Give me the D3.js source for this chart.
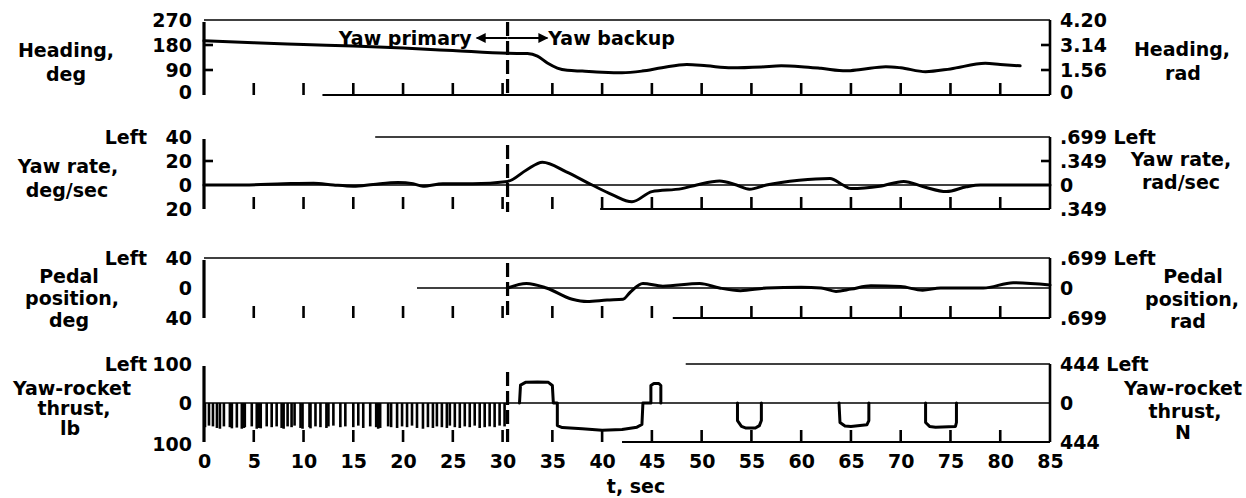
<!DOCTYPE html>
<html><head><meta charset="utf-8">
<script src="https://cdn.jsdelivr.net/npm/d3@7"></script>
<style>
html,body{margin:0;padding:0;background:#fff;}
svg{display:block;}
text{font-family:'DejaVu Sans',sans-serif;font-weight:bold;fill:#000;}
</style></head>
<body><svg id="chart" width="1246" height="498"></svg>
<script>
// ---------------- data ----------------
const xTickValues = [0,5,10,15,20,25,30,35,40,45,50,55,60,65,70,75,80,85];
const xTickLabels = ["0","5","10","15","20","25","30","35","40","45","50","55","60","65","70","75","80","85"];

// Heading, deg
const headingT   = [0,5,10,15,20,25,30.5,32.5,33.5,34.5,35.5,36.5,38,40,42,44,46,48.5,50.5,53,56,58,60,62,64.5,66,68.5,70,72.5,75,78.5,80,82];
const headingDeg = [195,188,182,176,169,160,150,149,140,115,97,89,86,82,80,86,98,110,105,98,101,105,102,96,87,92,102,98,84,94,114,110,105];

// Yaw rate, deg/sec
const yawT    = [0,4,8,11,13,15,17,19.5,21,22,24,27,30.5,32.4,34,36.4,39,41,43,45,48,49.5,51.8,53.5,54.8,56.5,59.8,62.9,64.2,65,67.9,70.3,72.3,74.6,76.6,78,85];
const yawRate = [0,0,1,1.5,0,-1,0.5,2,1,-1,1,1,3,12.5,19,11,0,-8,-14,-5.5,-3,0,3.3,0,-3.5,0,4,5.5,0,-3,-1,3,-1.5,-5.5,-1.5,0,0];

// Pedal position, deg
const pedalT   = [30.5,32.4,34.4,37,38.5,40.5,42.1,42.8,44.1,46.1,49.8,51.8,53.9,56.5,60,62,63.5,65,67,70,72.2,74,78.3,81.3,85];
const pedalDeg = [0,6,0,-15,-18,-16,-15,-6,6,2.5,6,0,-3.5,0,1,0,-4.5,-1.5,3,2,-3,0,0,7,4];

// Yaw-rocket thrust, lb : short pulses before 30 s
const pulseT  = [0.1,0.5,0.9,1.3,1.6,2.0,2.6,2.8,3.3,3.8,4.0,4.1,4.8,5.3,5.5,5.7,6.3,6.8,7.3,7.8,8.0,8.4,8.8,9.1,9.7,9.9,10.6,10.7,11.2,11.7,12.3,12.5,13.0,13.7,14.2,15.0,15.5,16.0,16.7,17.3,17.5,17.7,18.5,18.8,19.4,19.9,20.4,20.9,21.4,22.0,22.5,23.0,23.4,23.9,24.4,24.7,25.2,25.7,26.2,26.7,27.2,27.7,28.2,28.7,29.2,29.7,30.2];
const pulseLb = [-62,-58,-60,-64,-66,-60,-62,-65,-63,-66,-64,-62,-60,-66,-64,-65,-60,-62,-60,-64,-66,-60,-62,-58,-64,-66,-62,-65,-60,-62,-64,-60,-58,-62,-60,-62,-58,-64,-60,-62,-66,-64,-60,-62,-64,-60,-62,-58,-64,-66,-62,-64,-60,-62,-64,-58,-62,-64,-60,-62,-58,-64,-62,-60,-62,-58,-60];
// Yaw-rocket thrust, lb : backup-mode firings (time, lb)
const rocketA = [[31.7,0],[31.8,46],[32.3,53],[33.5,54],[34.6,53],[35.0,45],[35.1,0],[35.5,0],[35.5,-58],[36.0,-63],[38.0,-66],[40.0,-70],[42.0,-68],[43.5,-62],[44.0,-55],[44.1,0],[44.9,0],[44.9,45],[45.2,50],[45.7,50],[45.9,45],[45.9,0]];
const rocketB = [[53.6,0],[53.6,-45],[54.0,-60],[54.4,-64],[55.4,-64],[55.8,-58],[56.0,-45],[56.0,0]];
const rocketC = [[63.8,0],[63.9,-50],[64.4,-59],[65.0,-60],[66.6,-56],[66.8,-45],[66.8,0]];
const rocketD = [[72.5,0],[72.5,-50],[72.9,-60],[73.5,-62],[75.5,-60],[75.6,-50],[75.6,0]];

// axis tick labels
const p1LeftVals = [270,180,90,0],   p1LeftLabels = ["270","180","90","0"],  p1RightLabels = ["4.20","3.14","1.56","0"];
const p2LeftVals = [40,20,0,-20],    p2LeftLabels = ["40","20","0","20"],    p2RightLabels = [".699 Left",".349","0",".349"];
const p3LeftVals = [40,0,-40],       p3LeftLabels = ["40","0","40"],         p3RightLabels = [".699 Left","0",".699"];
const p4LeftVals = [100,0,-100],     p4LeftLabels = ["100","0","100"],       p4RightLabels = ["444 Left","0","444"];

const switchT = 30.5;

// ---------------- layout ----------------
const svg = d3.select("#chart");
const X0 = 204, X1 = 1050;
const x = d3.scaleLinear().domain([0,85]).range([X0,X1]);

const panels = [
  {y: d3.scaleLinear().domain([0,270]).range([95,20]),   lv:p1LeftVals, ll:p1LeftLabels, rl:p1RightLabels, inTicks:[180,90], topFrom:0,    botFrom:11.9, zeroFrom:null, dash:[22,95],  lblShift:-3},
  {y: d3.scaleLinear().domain([-20,40]).range([209,137]),lv:p2LeftVals, ll:p2LeftLabels, rl:p2RightLabels, inTicks:[20],     topFrom:17.2, botFrom:39.8, zeroFrom:0,    dash:[145,212], lblShift:0},
  {y: d3.scaleLinear().domain([-40,40]).range([318,258]),lv:p3LeftVals, ll:p3LeftLabels, rl:p3RightLabels, inTicks:[],       topFrom:0,    botFrom:47.1, zeroFrom:21.4, dash:[263,318], lblShift:0},
  {y: d3.scaleLinear().domain([-100,100]).range([442,364]),lv:p4LeftVals,ll:p4LeftLabels,rl:p4RightLabels, inTicks:[],       topFrom:48.4, botFrom:42.0, zeroFrom:0,    dash:[372,442], lblShift:2}
];
const FS = 19;

panels.forEach((p,i) => {
  const g = svg.append("g");
  const [yb, yt] = p.y.range();
  const bottomVal = p.y.domain()[0];
  // frame lines
  g.append("line").attr("x1",x(p.topFrom)).attr("x2",X1).attr("y1",yt).attr("y2",yt).attr("stroke","#000").attr("stroke-width",1.6);
  g.append("line").attr("x1",x(p.botFrom)).attr("x2",X1).attr("y1",yb).attr("y2",yb).attr("stroke","#000").attr("stroke-width",1.8);
  if (p.zeroFrom !== null) {
    g.append("line").attr("x1",x(p.zeroFrom)).attr("x2",X1).attr("y1",p.y(0)).attr("y2",p.y(0)).attr("stroke","#000").attr("stroke-width",1.6);
  }
  // left & right axis lines
  g.append("line").attr("x1",X0).attr("x2",X0).attr("y1",yt+2).attr("y2",yb).attr("stroke","#000").attr("stroke-width",3.2);
  g.append("line").attr("x1",X1).attr("x2",X1).attr("y1",yt).attr("y2",yb).attr("stroke","#000").attr("stroke-width",2.6);
  // inward ticks on both axes
  p.inTicks.forEach(v => {
    g.append("line").attr("x1",X0).attr("x2",X0+9).attr("y1",p.y(v)).attr("y2",p.y(v)).attr("stroke","#000").attr("stroke-width",2.6);
    g.append("line").attr("x1",X1-9).attr("x2",X1).attr("y1",p.y(v)).attr("y2",p.y(v)).attr("stroke","#000").attr("stroke-width",2.6);
  });
  // bottom time ticks
  g.selectAll(".bt").data(xTickValues.filter(t => t>0 && t<85)).enter().append("line")
    .attr("x1",d=>x(d)).attr("x2",d=>x(d)).attr("y1",yb).attr("y2",yb-12)
    .attr("stroke","#000").attr("stroke-width",2.6);
  // left labels
  const la = d3.axisLeft(p.y).tickValues(p.lv).tickFormat((d,k)=>p.ll[k]).tickSize(0).tickPadding(12);
  const lg = svg.append("g").attr("transform",`translate(${X0},0)`).call(la);
  lg.select(".domain").remove();
  lg.selectAll("text").attr("font-size",FS).attr("font-family","'DejaVu Sans',sans-serif").attr("font-weight","bold").attr("fill","#000");
  lg.selectAll(".tick").filter(d => d === bottomVal).select("text").attr("y", p.lblShift);
  // right labels
  const ra = d3.axisRight(p.y).tickValues(p.lv).tickFormat((d,k)=>p.rl[k]).tickSize(0).tickPadding(10);
  const rg = svg.append("g").attr("transform",`translate(${X1},0)`).call(ra);
  rg.select(".domain").remove();
  rg.selectAll("text").attr("font-size",FS).attr("font-family","'DejaVu Sans',sans-serif").attr("font-weight","bold").attr("fill","#000").attr("xml:space","preserve");
  if (i === 0) rg.selectAll(".tick").filter(d => d === bottomVal).select("text").attr("y", -3);
  // dashed switch line
  g.append("line").attr("x1",x(switchT)).attr("x2",x(switchT)).attr("y1",p.dash[0]).attr("y2",p.dash[1])
    .attr("stroke","#000").attr("stroke-width",3.2).attr("stroke-dasharray","14,5");
});

// "Left" labels beside left axes
[[1,40],[2,40],[3,100]].forEach(([i,v]) => {
  svg.append("text").attr("x",147).attr("y",panels[i].y(v)).attr("dy","0.35em")
    .attr("text-anchor","end").attr("font-size",FS).text("Left");
});

// x axis labels
const xa = d3.axisBottom(x).tickValues(xTickValues).tickFormat((d,k)=>xTickLabels[k]).tickSize(0).tickPadding(13);
const xg = svg.append("g").attr("transform",`translate(0,${panels[3].y.range()[0]})`).call(xa);
xg.select(".domain").remove();
xg.selectAll("text").attr("font-size",FS).attr("font-family","'DejaVu Sans',sans-serif").attr("font-weight","bold").attr("fill","#000");
svg.append("text").attr("x",636).attr("y",486).attr("dy","0.35em").attr("text-anchor","middle").attr("font-size",FS).text("t, sec");

// ---------------- series ----------------
const lineStyle = sel => sel.attr("fill","none").attr("stroke","#000").attr("stroke-width",3).attr("stroke-linejoin","round").attr("stroke-linecap","round");

const hLine = d3.line().x(d=>x(d[0])).y(d=>panels[0].y(d[1])).curve(d3.curveMonotoneX);
svg.append("path").datum(headingT.map((t,k)=>[t,headingDeg[k]])).attr("d",hLine).call(lineStyle);

const yLine = d3.line().x(d=>x(d[0])).y(d=>panels[1].y(d[1])).curve(d3.curveMonotoneX);
svg.append("path").datum(yawT.map((t,k)=>[t,yawRate[k]])).attr("d",yLine).call(lineStyle);

const pLine = d3.line().x(d=>x(d[0])).y(d=>panels[2].y(d[1])).curve(d3.curveMonotoneX);
svg.append("path").datum(pedalT.map((t,k)=>[t,pedalDeg[k]])).attr("d",pLine).call(lineStyle);

const y4 = panels[3].y;
svg.selectAll(".pulse").data(pulseT.map((t,k)=>[t,pulseLb[k]])).enter().append("line")
  .attr("x1",d=>x(d[0])).attr("x2",d=>x(d[0])).attr("y1",y4(0)).attr("y2",d=>y4(d[1]))
  .attr("stroke","#000").attr("stroke-width",2.6);
const rLine = d3.line().x(d=>x(d[0])).y(d=>y4(d[1]));
[rocketA,rocketB,rocketC,rocketD].forEach(seg => {
  svg.append("path").datum(seg).attr("d",rLine).call(lineStyle);
});

// ---------------- annotation ----------------
const annY = 38;
svg.append("defs").html(
  '<marker id="ah" viewBox="0 0 10 10" refX="9" refY="5" markerWidth="8" markerHeight="5" orient="auto-start-reverse">' +
  '<path d="M0,0 L10,5 L0,10 z" fill="#000"/></marker>');
svg.append("line").attr("x1",x(27.4)).attr("x2",x(switchT)).attr("y1",annY).attr("y2",annY)
  .attr("stroke","#000").attr("stroke-width",2).attr("marker-start","url(#ah)");
svg.append("line").attr("x1",x(switchT)).attr("x2",x(34.5)).attr("y1",annY).attr("y2",annY)
  .attr("stroke","#000").attr("stroke-width",2).attr("marker-end","url(#ah)");
svg.append("text").attr("x",x(26.9)).attr("y",annY).attr("dy","0.35em").attr("text-anchor","end").attr("font-size",FS).text("Yaw primary");
svg.append("text").attr("x",x(34.6)).attr("y",annY).attr("dy","0.35em").attr("text-anchor","start").attr("font-size",FS).text("Yaw backup");

// ---------------- titles ----------------
const titles = [
  ["Heading,",66,50],["deg",66,74],
  ["Yaw rate,",68,166],["deg/sec",67,190],
  ["Pedal",69,276],["position,",72,298],["deg",69,320],
  ["Yaw-rocket",72,388],["thrust,",74,408],["lb",70,428],
  ["Heading,",1182,49],["rad",1183,73],
  ["Yaw rate,",1181,159],["rad/sec",1181,182],
  ["Pedal",1193,276],["position,",1192,299],["rad",1188,321],
  ["Yaw-rocket",1183,388],["thrust,",1185,411],["N",1183,432]
];
svg.selectAll(".title").data(titles).enter().append("text")
  .attr("x",d=>d[1]).attr("y",d=>d[2]).attr("dy","0.35em").attr("text-anchor","middle")
  .attr("font-size",FS).text(d=>d[0]);
</script></body></html>
